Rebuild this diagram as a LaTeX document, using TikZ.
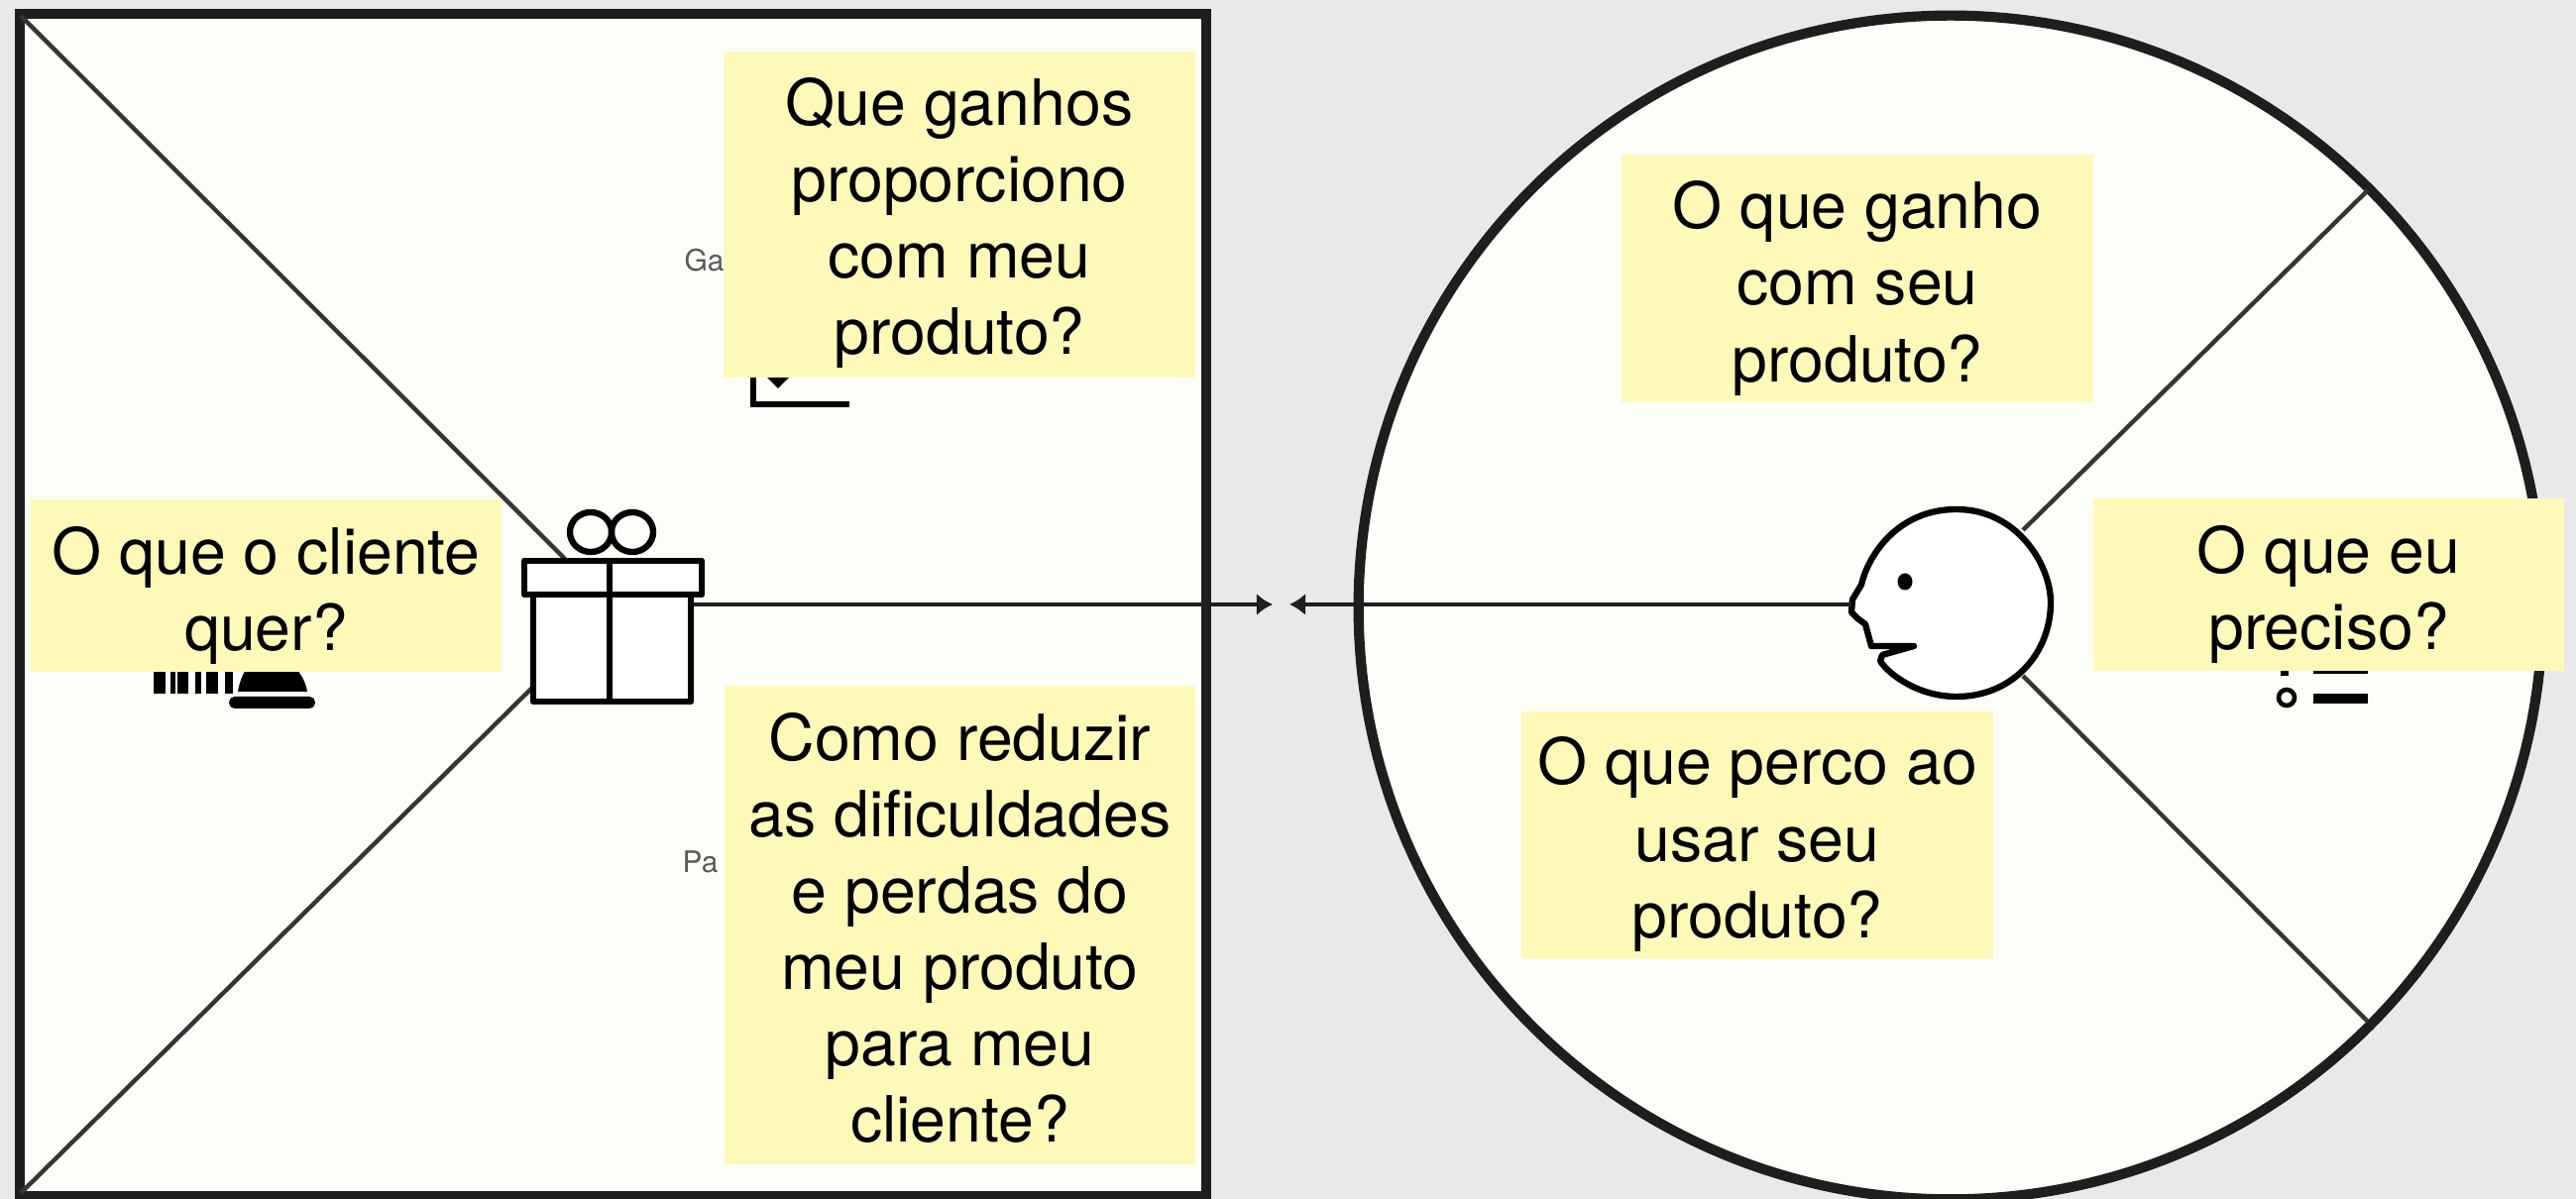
\documentclass[tikz,border=0pt]{standalone}
\usepackage{fontspec}
\setmainfont{TeX Gyre Heros}
\usetikzlibrary{arrows.meta}
\definecolor{pagebg}{HTML}{E9E9E9}
\definecolor{panel}{HTML}{FEFEF9}
\definecolor{sticky}{HTML}{FFF9B9}
\definecolor{ink}{HTML}{1E1E1E}
\newcommand{\toppad}[1]{\rule{0pt}{#1cm}}
\tikzset{
  px/.style={x=0.01cm,y=-0.01cm},
  frameline/.style={draw=ink,line width=2.9pt,fill=panel},
  thinline/.style={draw=ink!90,line width=1.25pt},
  iconline/.style={draw=black,line width=1.8pt,fill=white,line join=round},
  flowline/.style={draw=ink,line width=1.25pt,-{Latex[length=4.6pt,width=6.4pt]}},
  sticky box/.style={fill=sticky,inner sep=0pt,align=center,text=black,
    font=\fontsize{18.3}{21.9}\selectfont},
  ghost/.style={text=black!65,inner sep=0pt,anchor=base west,font=\fontsize{8.5}{10}\selectfont},
}
\begin{document}
\begin{tikzpicture}[px]
\fill[pagebg] (0,0) rectangle (2599,1210);
\useasboundingbox (0,0) rectangle (2599,1210);
% panels
\draw[frameline] (20,14) rectangle (1217,1207);
\draw[frameline] (1968,613) circle [radius=5.97cm];
% named anchors
\coordinate (sqTL) at (21,16);
\coordinate (sqBL) at (21,1204);
\coordinate (giftUp) at (570,564);
\coordinate (giftDown) at (538,693);
\coordinate (tipL) at (1284,610);
\coordinate (tipR) at (1301,610);
\coordinate (faceNose) at (1868,610);
\coordinate (headUp) at (2041,535);
\coordinate (headDown) at (2041,682);
\coordinate (rimUp) at (2389,192);
\coordinate (rimDown) at (2389,1031);
\draw[thinline] (sqTL) -- (giftUp);
\draw[thinline] (sqBL) -- (giftDown);
\draw[thinline] (headUp) -- (rimUp);
\draw[thinline] (headDown) -- (rimDown);
% ghost labels
\node[ghost] (ga) at (690,274) {Ga};
\node[ghost] (pa) at (688,881) {Pa};
% chart icon fragment
\draw[black,line width=1.6pt] (760,375) -- (760,408) -- (857,408);
\fill[black] (774,381) -- (796,381) -- (785,392) -- cycle;
% bars and bell fragment
\foreach \bx/\bw in {155/12,172/5,179/11,197/6,208/12,227/8}
  \fill[black] (\bx,670) rectangle ++(\bw,30);
\fill[black] (240,698) .. controls (242,686) and (246,678) .. (252,670) -- (295,670)
  .. controls (302,678) and (308,686) .. (310,698) -- cycle;
\fill[black,rounded corners=1.6pt] (231,703) rectangle (318,715);
% list fragment
\fill[black] (2334,670) rectangle (2389,680);
\fill[black] (2334,700) rectangle (2389,710);
\draw[black,line width=1.3pt,fill=panel] (2307,704) circle [radius=0.08cm];
\fill[black] (2301,670) rectangle (2309,682);
% gift
\node[iconline,minimum width=1.59cm,minimum height=1.08cm,inner sep=0pt] (giftbody) at (617.5,654) {};
\node[iconline,minimum width=1.79cm,minimum height=0.34cm,inner sep=0pt] (giftlid) at (618.5,583) {};
\draw[iconline,fill=none] (615,566) -- (615,708);
\draw[iconline,fill=none] (596,537) ellipse [x radius=0.21cm,y radius=0.20cm];
\draw[iconline,fill=none] (638,537) ellipse [x radius=0.21cm,y radius=0.20cm];
% head
\draw[iconline]
  (1974,514)
  .. controls (2035,514) and (2069,570) .. (2069,608)
  .. controls (2069,660) and (2030,703) .. (1974,703)
  .. controls (1935,703) and (1905,680) .. (1897,667)
  -- (1899,661) -- (1931,652) -- (1888,652)
  -- (1882,630) -- (1874,624) -- (1868,618) -- (1869,605) -- (1878,590)
  .. controls (1885,560) and (1915,514) .. (1974,514) -- cycle;
\fill[black] (1922,587) ellipse [x radius=0.075cm,y radius=0.085cm];
% arrows
\draw[flowline] (giftbody.east |- tipL) -- (tipL);
\draw[flowline] (faceNose) -- (tipR);
% sticky notes
\node[sticky box,minimum width=4.75cm,minimum height=3.29cm] (gains) at (968,216.5) {\toppad{0.65}Que ganhos\\proporciono\\com meu\\produto?};
\node[sticky box,minimum width=4.75cm,minimum height=4.83cm] (pains) at (968.5,933.5) {\toppad{0.54}Como reduzir\\as dificuldades\\e perdas do\\meu produto\\para meu\\cliente?};
\node[sticky box,minimum width=4.75cm,minimum height=1.74cm] (wants) at (268.5,591) {\toppad{0.68}O que o cliente\\quer?};
\node[sticky box,minimum width=4.76cm,minimum height=2.50cm] (gainq) at (1874,281) {\toppad{0.68}O que ganho\\com seu\\produto?};
\node[sticky box,minimum width=4.76cm,minimum height=2.50cm] (loseq) at (1773,843) {\toppad{0.66}O que perco ao\\usar seu\\produto?};
\node[sticky box,minimum width=4.75cm,minimum height=1.74cm] (needs) at (2349.5,590) {\toppad{0.68}O que eu\\preciso?};
\end{tikzpicture}
\end{document}
